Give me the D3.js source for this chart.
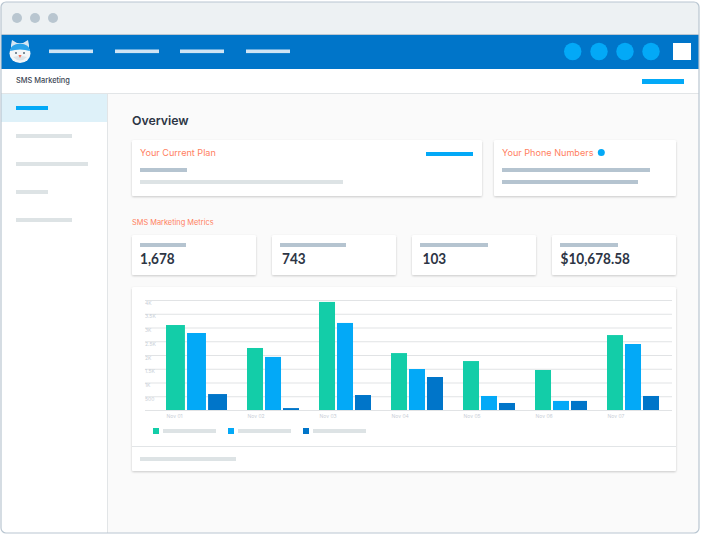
<!DOCTYPE html>
<html>
<head>
<meta charset="utf-8">
<script src="https://cdn.jsdelivr.net/npm/d3@7/dist/d3.min.js"></script>
<style>
html,body{margin:0;padding:0;background:#fff;overflow:hidden}
svg{display:block}
text{font-family:Inter,Lato,"Noto Sans",sans-serif}
</style>
</head>
<body>
<svg id="c" width="704" height="540"></svg>
<script>
// ---- chart data ----
const days = ["Nov 01","Nov 02","Nov 03","Nov 04","Nov 05","Nov 06","Nov 07"];
const seriesA = [3090,2255,3930,2070,1780,1455,2725];
const seriesB = [2800,1930,3165,1490,510,330,2400];
const seriesC = [580,70,545,1200,255,330,510];
const yTickValues = [500,1000,1500,2000,2500,3000,3500,4000];
const yTickLabels = ["500","1K","1.5K","2K","2.5K","3K","3.5K","4K"];
const metricValues = ["1,678","743","103","$10,678.58"];
const seriesColors = ["#13cda8","#03a9f7","#0075c9"];

const BLUE="#0075c9", SKY="#03a9f7", ORANGE="#ff7f5f", SLATE="#b5c4d0", PALE="#dde3e5", INK="#2d3545";
const svg = d3.select("#c");
const defs = svg.append("defs");
const shadow = defs.append("filter").attr("id","sh").attr("x","-5%").attr("y","-10%").attr("width","110%").attr("height","125%");
shadow.append("feDropShadow").attr("dx",0).attr("dy",1).attr("stdDeviation",1.1).attr("flood-color","#000").attr("flood-opacity",0.2);
const clip = defs.append("clipPath").attr("id","win");
clip.append("rect").attr("x",1).attr("y",2).attr("width",698).attr("height",531).attr("rx",5);

function rect(p,x,y,w,h,fill,rx){
  return p.append("rect").attr("x",x).attr("y",y).attr("width",w).attr("height",h).attr("fill",fill).attr("rx",rx||0);
}
function label(p,x,y,str,size,weight,fill){
  return p.append("text").attr("x",x).attr("y",y).attr("font-size",size).attr("font-weight",weight).attr("fill",fill).text(str);
}
function card(x,y,w,h){ return rect(svg,x,y,w,h,"#fff",1.5).attr("filter","url(#sh)"); }

// window frame
const page = svg.append("g").attr("clip-path","url(#win)");
rect(page,1,2,698,531,"#fafafa");
rect(page,1,2,698,32,"#edf1f3");
rect(page,1,34,698,1,"#b9c6d1");
[17,35,53].forEach(x=>page.append("circle").attr("cx",x).attr("cy",18).attr("r",5).attr("fill","#b9c6d0"));

// nav bar
rect(page,1,35,698,34,BLUE);
[49,115,180,246].forEach(x=>rect(page,x,49.5,44,3.6,"#cfe4f4"));
[572.7,599,625,651].forEach(x=>page.append("circle").attr("cx",x).attr("cy",51.5).attr("r",8.7).attr("fill",SKY));
rect(page,673,43,18,17,"#fff");

// cat logo
const logo = page.append("g").attr("transform","translate(20,52)");
logo.append("path").attr("d","M-9,-7 L-8,-12 L-3,-9 L3,-9 L8,-12 L9,-7 L9,-3 L-9,-3Z").attr("fill","#d6e6f2");
logo.append("ellipse").attr("cx",0).attr("cy",1.5).attr("rx",10.5).attr("ry",9.5).attr("fill","#f3f6f8");
logo.append("path").attr("d","M-10,-1 Q-9.5,-8 0,-8.5 Q9.5,-8 10,-1 Q0,-4 -10,-1Z").attr("fill","#2aa3ea");
logo.append("path").attr("d","M-7,5 Q0,12 7,5 Q0,3 -7,5Z").attr("fill","#dbe3e8");
logo.append("circle").attr("cx",-4).attr("cy",1).attr("r",1).attr("fill","#5a6b7a");
logo.append("circle").attr("cx",4).attr("cy",1).attr("r",1).attr("fill","#5a6b7a");
logo.append("path").attr("d","M-1.6,3 L1.6,3 L0,6Z").attr("fill","#f0705a");

// sub header
rect(page,1,69,698,24,"#fff");
rect(page,1,93,698,1,"#e2e5e7");
label(page,16,83.3,"SMS Marketing",7.4,500,"#3a4452");
rect(page,642,79,42,5,SKY);

// side bar
rect(page,1,94,106,439,"#fff");
rect(page,107,94,1,439,"#e2e5e7");
rect(page,1,94,106,28,"#def1f9");
rect(page,16,106,32,4,SKY);
[[134,56],[162,72],[190,32],[218,56]].forEach(([y,w])=>rect(page,16,y,w,4,PALE));

// frame outline
svg.append("rect").attr("x",1).attr("y",2).attr("width",698).attr("height",531).attr("rx",5)
  .attr("fill","none").attr("stroke","#b9c6d1").attr("stroke-width",1.2);

// headings and top cards
label(svg,132,125,"Overview",12.3,600,INK);
card(132,140,350,56);
label(svg,140,156,"Your Current Plan",9.1,400,ORANGE);
rect(svg,426,152,47,4,SKY);
rect(svg,140,168,47,4,SLATE);
rect(svg,140,180,203,4,PALE);
card(494,140,182,56);
label(svg,502,156,"Your Phone Numbers",9.1,400,ORANGE);
svg.append("circle").attr("cx",601.3).attr("cy",152.5).attr("r",3.5).attr("fill",SKY);
rect(svg,502,168,148,4,SLATE);
rect(svg,502,180,136,4,SLATE);
label(svg,132,225,"SMS Marketing Metrics",7.4,400,ORANGE);

// metric cards
const metricX=[132,272,412,552], metricBar=[46,66,68,58], metricText=[140,282,422.5,560.5];
metricValues.forEach((v,i)=>{
  card(metricX[i],235,124,40);
  rect(svg,metricX[i]+8,243,metricBar[i],4,SLATE);
  label(svg,0,0,v,16,700,INK).style("font-family","Lato")
    .attr("transform",`translate(${metricText[i]},264) scale(0.85,1)`);
});

// chart card
card(132,287,544,184);
rect(svg,132,446,544,1,"#e2e5e7");
rect(svg,140,457,96,4,PALE);

// scales
const y = d3.scaleLinear().domain([0,4000]).range([410,300]);
const wide = 61, narrow = 52, firstShift = -9;
const slot = d3.scaleLinear().domain([1,6]).range([247,607]);
const groupX = d3.scaleOrdinal().domain(days).range(days.map((d,i)=>slot(i)+(i===0?firstShift:0)));
const keys = ["a","b","c"];
const innerWide = d3.scaleBand().domain(keys).range([0,wide]).paddingInner(0.1);
const innerNarrow = d3.scaleBand().domain(keys).range([0,narrow]).paddingInner(0.11);

// y axis: grid lines with the labels tucked under each line
const yAxis = d3.axisRight(y).tickValues([0,...yTickValues]).tickSize(527)
  .tickFormat(d=>d===0?"":yTickLabels[yTickValues.indexOf(d)]);
const gy = svg.append("g").attr("transform","translate(145,0)").call(yAxis);
gy.select(".domain").remove();
gy.selectAll("line").attr("stroke","#e1e3e5").attr("stroke-width",1);
gy.selectAll("text").attr("x",0).attr("dy",4.2).attr("text-anchor","start")
  .attr("font-size",5).attr("fill","#c8ced6");

// x axis labels
const xAxis = d3.axisBottom(groupX).tickSize(0).tickPadding(0);
const gx = svg.append("g").attr("transform","translate(0,411)").call(xAxis);
gx.select(".domain").remove();
gx.selectAll("text").attr("text-anchor","start").attr("dy",6.5)
  .attr("font-size",5).attr("fill","#c8ced6");

// bars
const rows = days.map((d,i)=>({day:d,i,vals:[seriesA[i],seriesB[i],seriesC[i]]}));
const groups = svg.append("g").selectAll("g").data(rows).join("g")
  .attr("transform",d=>`translate(${groupX(d.day)},0)`);
groups.selectAll("rect").data(d=>d.vals.map((v,k)=>({v,k,first:d.i===0}))).join("rect")
  .attr("x",d=>(d.first?innerWide:innerNarrow)(keys[d.k]))
  .attr("width",d=>(d.first?innerWide:innerNarrow).bandwidth())
  .attr("y",d=>y(d.v))
  .attr("height",d=>y(0)-y(d.v))
  .attr("fill",d=>seriesColors[d.k]);

// legend
const legendX=[153,228,303];
seriesColors.forEach((c,i)=>{
  rect(svg,legendX[i],428,6,6,c);
  rect(svg,legendX[i]+10,429,53,4,PALE);
});
</script>
</body>
</html>
